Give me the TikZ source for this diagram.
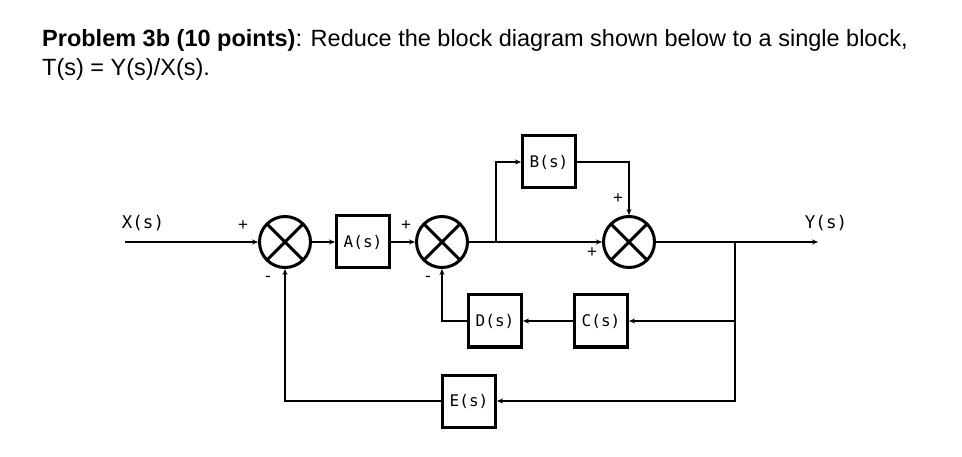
\documentclass[tikz,border=0pt]{standalone}
\usepackage{fontspec}
\setmainfont{Liberation Sans}
\newfontfamily\blockfont{DejaVu Sans Mono}
\usetikzlibrary{arrows.meta,calc,positioning}
\tikzset{
    blockbox/.style={draw, line width=3pt, minimum width=53pt, minimum height=52pt,
        inner sep=0pt, font=\blockfont\fontsize{16}{19}\selectfont},
    sumnode/.style={draw, circle, line width=3pt, minimum size=51pt, inner sep=0pt,
        path picture={\draw[line width=3pt]
            (path picture bounding box.north west) -- (path picture bounding box.south east)
            (path picture bounding box.north east) -- (path picture bounding box.south west);}},
    wire/.style={line width=1.8pt},
    sig/.style={wire, -{Stealth[length=6pt,width=5pt]}},
    signlabel/.style={font=\fontsize{17}{20}\selectfont, inner sep=0pt},
    sigtext/.style={font=\blockfont\fontsize{17.5}{20}\selectfont, inner sep=0pt},
    titletext/.style={anchor=base west, inner sep=0pt, font=\fontsize{23.5}{28}\selectfont}
}
\begin{document}
\begin{tikzpicture}[x=1pt, y=-1pt]
    \useasboundingbox (0, 0) rectangle (962, 457);
    % problem statement
    \node[titletext] (title1) at (42, 47)
        {\textbf{Problem 3b (10 points)}: Reduce the block diagram shown below to a single block,};
    \node[titletext] (title2) at (42, 76)
        {T(s) = Y(s)/X(s).};
    % summing junctions and blocks
    \node[sumnode] (sum1) at (285, 242) {};
    \node[blockbox] (A) at (363, 242) {A(s)};
    \node[sumnode] (sum2) at (442, 242) {};
    \node[blockbox] (B) at (549, 162) {B(s)};
    \node[sumnode] (sum3) at (629, 242) {};
    \node[blockbox] (D) at (495, 321) {D(s)};
    \node[blockbox] (C) at (601, 321) {C(s)};
    \node[blockbox] (E) at (469, 401) {E(s)};
    % free ends and branch points
    \coordinate (in) at (125, 242);
    \coordinate (out) at (818, 242);
    \coordinate (split1) at (496, 242);
    \coordinate (split2) at (735, 242);
    \node[sigtext] (xlabel) at (143, 223) {X(s)};
    \node[sigtext] (ylabel) at (826, 223) {Y(s)};
    % forward path
    \draw[sig] (in) -- (sum1.west);
    \draw[sig] (sum1.east) -- (A.west);
    \draw[sig] (A.east) -- (sum2.west);
    \draw[sig] (sum2.east) -- (sum3.west);
    \draw[sig] (split1) |- (B.west);
    \draw[sig] (B.east) -| (sum3.north);
    \draw[sig] (sum3.east) -- (out);
    % feedback paths
    \draw[sig] (split2) |- (C.east);
    \draw[sig] (C.west) -- (D.east);
    \draw[sig] (D.west) -| (sum2.south);
    \draw[sig] (split2) |- (E.east);
    \draw[sig] (E.west) -| (sum1.south);
    % signs
    \node[signlabel] (p1) at (243, 226) {+};
    \node[signlabel] (m1) at (268, 279) {-};
    \node[signlabel] (p2) at (406, 226) {+};
    \node[signlabel] (m2) at (428, 279) {-};
    \node[signlabel] (p3) at (618, 199) {+};
    \node[signlabel] (p4) at (592, 253) {+};
\end{tikzpicture}
\end{document}
